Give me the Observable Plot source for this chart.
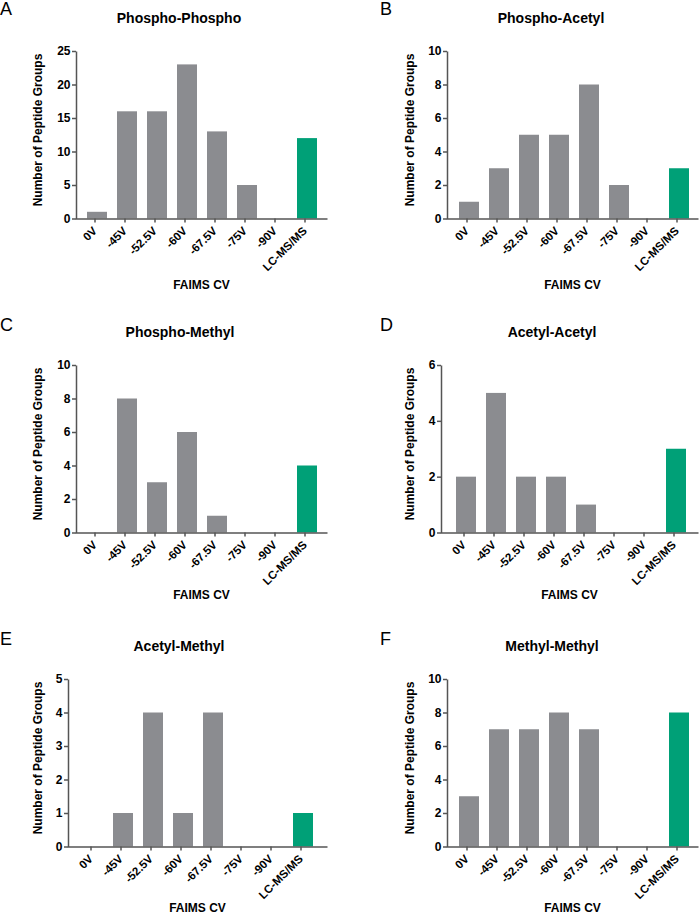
<!DOCTYPE html>
<html>
<head>
<meta charset="utf-8">
<script src="https://cdn.jsdelivr.net/npm/d3@7"></script>
<script src="https://cdn.jsdelivr.net/npm/@observablehq/plot@0.6"></script>
<style>
  html, body { margin: 0; padding: 0; background: #fff; overflow: hidden; }
  #root { position: relative; width: 700px; height: 914px; font-family: "Liberation Sans", Arial, sans-serif; }
  .panel { position: absolute; width: 350px; height: 300px; }
  .panel svg { position: absolute; left: 0; top: 0; font-family: "Liberation Sans", Arial, sans-serif; font-weight: bold; }
  .letter { position: absolute; font-size: 18px; line-height: 18px; font-weight: normal; color: #000; white-space: nowrap; }
  .title { position: absolute; font-size: 14px; line-height: 14px; font-weight: bold; color: #000; white-space: nowrap; transform: translateX(-50%); }
  .xlabel { position: absolute; font-size: 12px; line-height: 12px; font-weight: bold; color: #000; white-space: nowrap; transform: translateX(-50%); }
  .ylabel { position: absolute; font-size: 12px; line-height: 12px; font-weight: bold; color: #000; white-space: nowrap; transform: translate(-50%, -50%) rotate(-90deg); }
</style>
</head>
<body>
<div id="root"></div>
<script>
// ---- data ----
const categories = ["0V", "-45V", "-52.5V", "-60V", "-67.5V", "-75V", "-90V", "LC-MS/MS"];
const phosphoPhospho = [1, 16, 16, 23, 13, 5, 0, 12];
const phosphoAcetyl  = [1, 3, 5, 5, 8, 2, 0, 3];
const phosphoMethyl  = [0, 8, 3, 6, 1, 0, 0, 4];
const acetylAcetyl   = [2, 5, 2, 2, 1, 0, 0, 3];
const acetylMethyl   = [0, 1, 4, 1, 4, 0, 0, 1];
const methylMethyl   = [3, 7, 7, 8, 7, 0, 0, 8];
const panelLetters = ["A", "B", "C", "D", "E", "F"];
const panelTitles = ["Phospho-Phospho", "Phospho-Acetyl", "Phospho-Methyl", "Acetyl-Acetyl", "Acetyl-Methyl", "Methyl-Methyl"];
const panelSeries = [phosphoPhospho, phosphoAcetyl, phosphoMethyl, acetylAcetyl, acetylMethyl, methylMethyl];
const yMaxima = [25, 10, 10, 6, 5, 10];
const yTickSteps = [5, 2, 2, 2, 1, 2];
const yLabel = "Number of Peptide Groups";
const xLabel = "FAIMS CV";

// ---- styles / layout ----
const GRAY = "#8b8c90";
const GREEN = "#00a077";
const AXIS = "#555555";
const W = 350, H = 295;
const rowTops = [0, 313.5, 627.5];
const xLabelTops = [278.8, 275, 274.3];
const plotTop = 51, plotBottom = 218.5;
// per-panel layout: y-axis x, first bar center, band step, x-axis end
const layouts = [
  {yAxis: 76, c0: 96, step: 30.14, xEnd: 327},
  {yAxis: 97, c0: 118, step: 30.14, xEnd: 348},
  {yAxis: 76, c0: 96, step: 30.14, xEnd: 327},
  {yAxis: 91, c0: 112.5, step: 30.95, xEnd: 348},
  {yAxis: 68, c0: 90.1, step: 30.9, xEnd: 327},
  {yAxis: 97, c0: 118, step: 30.14, xEnd: 348}
];
const titleX = [179, 201, 180, 202, 179, 202];

const root = document.getElementById("root");
const n = categories.length;

panelSeries.forEach((series, i) => {
  const col = i % 2, row = Math.floor(i / 2);
  const L = layouts[i];
  const data = categories.map((c, k) => ({cat: c, value: series[k], group: c === "LC-MS/MS" ? "LC" : "FAIMS"}));
  const fw = L.xEnd - L.yAxis, fh = plotBottom - plotTop;

  const chart = Plot.plot({
    width: W,
    height: H,
    marginLeft: L.yAxis,
    marginRight: W - L.xEnd,
    marginTop: plotTop,
    marginBottom: H - plotBottom,
    style: {fontFamily: "Liberation Sans, Arial, sans-serif", fontSize: "12px", fontWeight: "bold", background: "transparent"},
    x: {domain: categories, range: [L.c0 - L.step / 2, L.c0 + (n - 0.5) * L.step], paddingInner: 0.335, paddingOuter: 0.1675},
    y: {domain: [0, yMaxima[i]]},
    color: {domain: ["FAIMS", "LC"], range: [GRAY, GREEN]},
    marks: [
      Plot.barY(data.filter(d => d.value > 0), {x: "cat", y: "value", fill: "group"}),
      Plot.frame({stroke: AXIS, strokeWidth: 1.5, strokeDasharray: `0 ${fw + fh} ${fw + fh}`}),
      Plot.axisY({ticks: d3.range(0, yMaxima[i] + 0.001, yTickSteps[i]), tickFormat: d3.format("d"), tickSize: 4, tickPadding: 2, label: null, stroke: AXIS, fill: "#000", strokeWidth: 1.5, fontSize: 12}),
      Plot.axisX({tickRotate: -45, tickSize: 4, tickPadding: 6, dx: -2.5, label: null, stroke: AXIS, fill: "#000", strokeWidth: 1.5, fontSize: 11.5})
    ]
  });

  const panel = document.createElement("div");
  panel.className = "panel";
  panel.style.left = (col * 350) + "px";
  panel.style.top = rowTops[row] + "px";
  panel.appendChild(chart);

  const letter = document.createElement("div");
  letter.className = "letter";
  letter.textContent = panelLetters[i];
  letter.style.left = (col === 0 ? 0 : 30) + "px";
  letter.style.top = (row === 0 ? -0.3 : 2.2) + "px";
  panel.appendChild(letter);

  const title = document.createElement("div");
  title.className = "title";
  title.textContent = panelTitles[i];
  title.style.left = titleX[i] + "px";
  title.style.top = "11.2px";
  panel.appendChild(title);

  const yl = document.createElement("div");
  yl.className = "ylabel";
  yl.textContent = yLabel;
  yl.style.left = (col === 0 ? 38 : 59.5) + "px";
  yl.style.top = "130px";
  panel.appendChild(yl);

  const xl = document.createElement("div");
  xl.className = "xlabel";
  xl.textContent = xLabel;
  xl.style.left = ((L.yAxis + L.xEnd) / 2) + "px";
  xl.style.top = xLabelTops[row] + "px";
  panel.appendChild(xl);

  root.appendChild(panel);
});
</script>
</body>
</html>
